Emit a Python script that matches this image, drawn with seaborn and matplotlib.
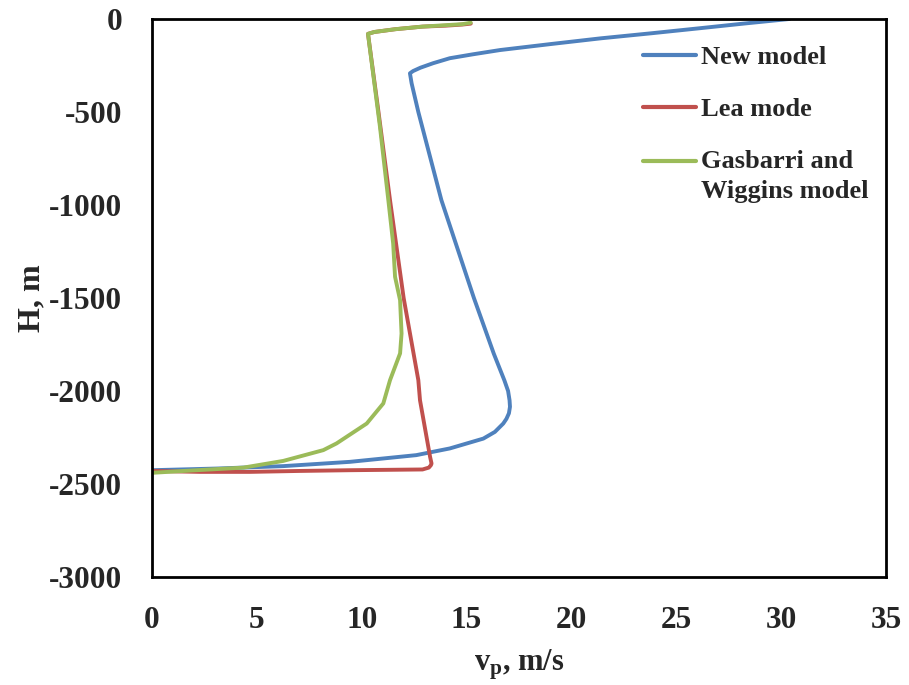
import numpy as np
import pandas as pd
import matplotlib
matplotlib.use("Agg")
import matplotlib.pyplot as plt
import seaborn as sns

# Depth profiles (H in m) and velocity (vp in m/s) for each model
new_h = [0, -25, -50, -77, -104, -135, -167, -190, -211, -238, -262, -280, -292, -346,
         -500, -974, -1500, -1800, -1942, -2000, -2050, -2085, -2120, -2150, -2175, -2220,
         -2256, -2309, -2345, -2381, -2404, -2417, -2426]
new_v = [30.4, 28.2, 26.1, 23.8, 21.4, 19.0, 16.6, 15.3, 14.2, 13.4, 12.8, 12.45, 12.3, 12.38,
         12.7, 13.8, 15.35, 16.3, 16.8, 16.98, 17.05, 17.07, 17.02, 16.9, 16.75, 16.35,
         15.8, 14.2, 12.6, 9.44, 6.26, 3.1, 0.0]

lea_h = [-25, -30, -36, -41, -55, -70, -80, -500, -974, -1500, -1942, -2050, -2354, -2390,
         -2399, -2412, -2422, -2426, -2430, -2435, -2435, -2430]
lea_v = [15.2, 14.8, 14.0, 12.9, 11.6, 10.6, 10.3, 10.8, 11.35, 12.0, 12.7, 12.78, 13.26,
         13.33, 13.3, 13.2, 12.9, 9.44, 7.0, 4.67, 2.3, 0.0]

gw_h = [-20, -28, -32, -41, -55, -70, -80, -579, -974, -1207, -1386, -1512, -1691, -1798,
        -1942, -2067, -2175, -2282, -2318, -2376, -2412, -2430, -2440]
gw_v = [15.2, 14.8, 14.2, 12.9, 11.6, 10.6, 10.3, 10.87, 11.27, 11.5, 11.59, 11.83, 11.9,
        11.83, 11.35, 11.03, 10.24, 8.8, 8.17, 6.26, 4.36, 1.5, 0.0]

labels = ["New model", "Lea mode", "Gasbarri and\nWiggins model"]
colors = ["#4F81BD", "#C0504D", "#9BBB59"]

x_ticks = [0, 5, 10, 15, 20, 25, 30, 35]
y_ticks = [0, -500, -1000, -1500, -2000, -2500, -3000]

frames = []
for lab, v, h in zip(labels, [new_v, lea_v, gw_v], [new_h, lea_h, gw_h]):
    frames.append(pd.DataFrame({"vp": v, "H": h, "model": lab}))
df = pd.concat(frames, ignore_index=True)

sns.set_style("white")
plt.rcParams["font.family"] = ["Liberation Serif", "DejaVu Serif"]
plt.rcParams["font.weight"] = "bold"
plt.rcParams["mathtext.fontset"] = "custom"
plt.rcParams["mathtext.rm"] = "Liberation Serif:bold"
plt.rcParams["mathtext.bf"] = "Liberation Serif:bold"
plt.rcParams["mathtext.it"] = "Liberation Serif:bold"

fig = plt.figure(figsize=(9.09, 6.85), dpi=100)
ax = fig.add_axes([0.1672, 0.1577, 0.8075, 0.8146])

sns.lineplot(data=df, x="vp", y="H", hue="model", hue_order=labels,
             palette=colors, sort=False, estimator=None,
             linewidth=2.8, ax=ax)
for line in ax.get_lines():
    line.set_solid_joinstyle("round")
    line.set_solid_capstyle("round")

ax.set_xlim(0, 35)
ax.set_ylim(-3000, 0)
ax.set_xticks(x_ticks)
ax.set_yticks(y_ticks)
ax.set_xticklabels([str(t) for t in x_ticks], fontsize=22.5, fontweight="bold")
ax.set_yticklabels([str(t) for t in y_ticks], fontsize=22.5, fontweight="bold")
ax.tick_params(axis="both", length=0)
ax.tick_params(axis="x", pad=21)
ax.tick_params(axis="y", pad=21.5)

for side in ["left", "right", "top", "bottom"]:
    ax.spines[side].set_visible(True)
    ax.spines[side].set_color("black")
    ax.spines[side].set_linewidth(2.0)

ax.set_xlabel(r"v$_{\mathbf{p}}$, m/s", fontsize=22, fontweight="bold", labelpad=9)
ax.set_ylabel("H, m", fontsize=23, fontweight="bold", labelpad=2)

leg = ax.legend(loc="upper left", bbox_to_anchor=(0.637, 0.995), frameon=False,
                prop={"size": 19, "weight": "bold"}, handlelength=2.0,
                handletextpad=0.2, labelspacing=1.09)
for line in leg.get_lines():
    line.set_linewidth(3.0)
for txt in leg.get_texts():
    txt.set_linespacing(1.4)
# keep the last handle level with the first line of its two-line label
g = leg.get_lines()[2]
g.set_ydata(np.asarray(g.get_ydata()) + 11)

fig.savefig("out.png", dpi=100)
